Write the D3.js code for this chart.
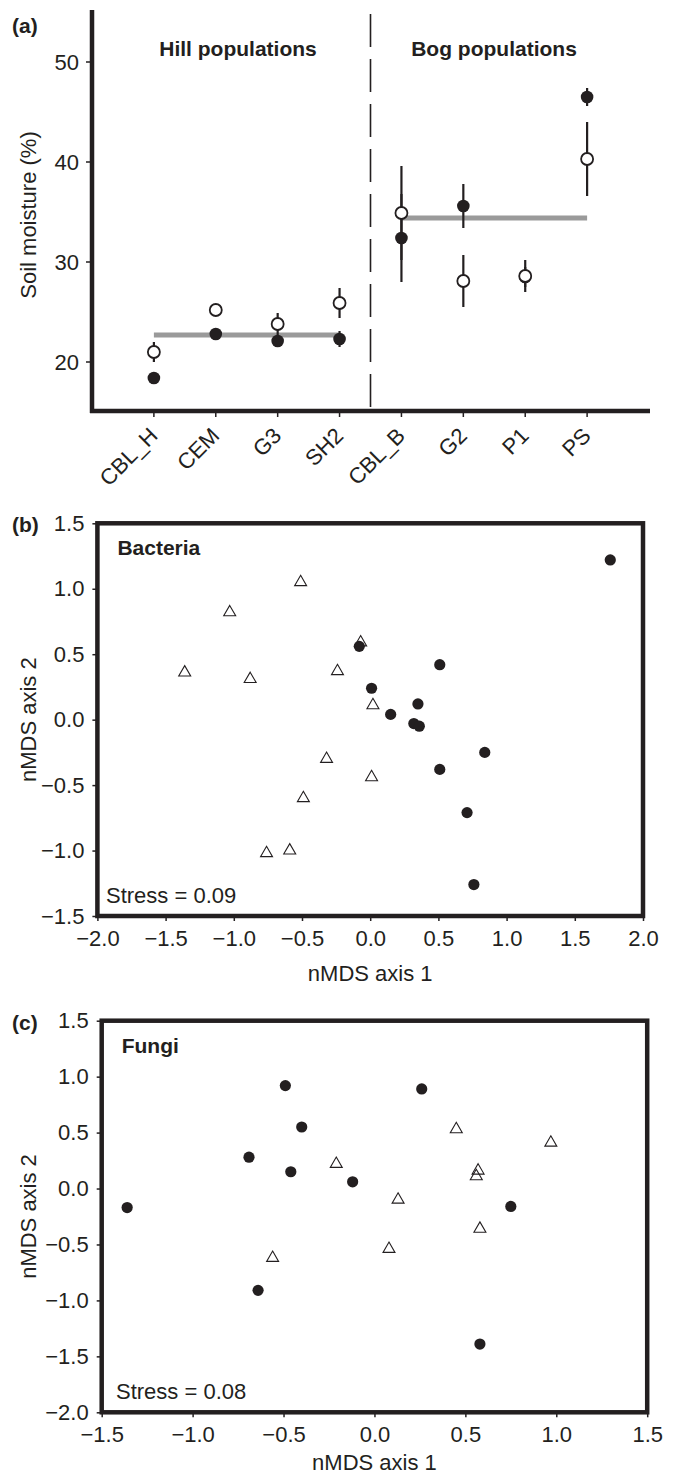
<!DOCTYPE html>
<html>
<head>
<meta charset="utf-8">
<script src="https://cdn.jsdelivr.net/npm/d3@7"></script>
<style>
  body { margin: 0; background: #fff; }
  svg { display: block; font-family: "Liberation Sans", Arial, sans-serif; }
  text { fill: #231f20; }
</style>
</head>
<body>
<div id="chart"></div>
<script>
// panel (a) data: soil moisture per population
const sites = ["CBL_H", "CEM", "G3", "SH2", "CBL_B", "G2", "P1", "PS"];
const filledMean = [18.4, 22.8, 22.1, 22.3, 32.4, 35.6, 28.5, 46.5];
const filledErr  = [0.3, 0.4, 0.5, 0.8, 4.4, 2.2, 1.0, 0.9];
const openMean   = [21.0, 25.2, 23.8, 25.9, 34.9, 28.1, 28.6, 40.3];
const openErr    = [1.0, 0.4, 1.1, 1.5, 4.7, 2.6, 1.6, 3.7];
const groupNames = ["Hill populations", "Bog populations"];
const groupSites = [["CBL_H", "SH2"], ["CBL_B", "PS"]];
const groupMean  = [22.7, 34.4];
const ticksA = [20, 30, 40, 50];

// panel (b) bacteria nMDS
const bactFilled = [[1.76, 1.22], [-0.08, 0.56], [0.51, 0.42], [0.01, 0.24], [0.35, 0.12], [0.15, 0.04],
  [0.32, -0.03], [0.36, -0.05], [0.84, -0.25], [0.51, -0.38], [0.71, -0.71], [0.76, -1.26]];
const bactOpen = [[-0.51, 1.05], [-1.03, 0.82], [-0.07, 0.59], [-1.36, 0.36], [-0.88, 0.31], [-0.24, 0.37],
  [0.02, 0.11], [-0.32, -0.30], [0.01, -0.44], [-0.49, -0.60], [-0.76, -1.02], [-0.59, -1.00]];

// panel (c) fungi nMDS
const fungFilled = [[-0.49, 0.92], [0.26, 0.89], [-0.40, 0.55], [-0.69, 0.28], [-0.46, 0.15], [-0.12, 0.06],
  [-1.36, -0.17], [0.75, -0.16], [-0.64, -0.91], [0.58, -1.39]];
const fungOpen = [[0.45, 0.53], [0.97, 0.41], [-0.21, 0.22], [0.57, 0.16], [0.56, 0.11], [0.13, -0.10],
  [0.58, -0.36], [0.08, -0.54], [-0.56, -0.62]];

const W = 676, H = 1476;
const ink = "#231f20";
const svg = d3.select("#chart").append("svg").attr("width", W).attr("height", H);

// ---------- panel (a) ----------
const xA = d3.scalePoint().domain(sites).range([92, 649]).padding(1);
const yA = d3.scaleLinear().domain([15, 55]).range([412, 12]);
const gA = svg.append("g");

// y ticks + labels
gA.selectAll(".ytA").data(ticksA).enter().append("line")
  .attr("x1", 86).attr("x2", 92)
  .attr("y1", d => yA(d)).attr("y2", d => yA(d))
  .attr("stroke", ink).attr("stroke-width", 1.5);
gA.selectAll(".ylA").data(ticksA).enter().append("text")
  .attr("x", 79).attr("y", d => yA(d)).attr("dy", "0.35em")
  .attr("text-anchor", "end").attr("font-size", 22).text(d => d);

// x ticks + rotated labels
gA.selectAll(".xtA").data(sites).enter().append("line")
  .attr("x1", d => xA(d)).attr("x2", d => xA(d))
  .attr("y1", 411).attr("y2", 417)
  .attr("stroke", ink).attr("stroke-width", 1.5);
gA.selectAll(".xlA").data(sites).enter().append("text")
  .attr("transform", d => `translate(${xA(d) + 5},437) rotate(-45)`)
  .attr("text-anchor", "end").attr("font-size", 22).text(d => d);

// divider
const divX = (xA("SH2") + xA("CBL_B")) / 2;
gA.append("line").attr("x1", divX).attr("x2", divX).attr("y1", 14).attr("y2", 411)
  .attr("stroke", ink).attr("stroke-width", 1.6).attr("stroke-dasharray", "33,12");

// group mean lines
gA.selectAll(".gm").data(groupMean).enter().append("line")
  .attr("x1", (d, i) => xA(groupSites[i][0])).attr("x2", (d, i) => xA(groupSites[i][1]))
  .attr("y1", d => yA(d)).attr("y2", d => yA(d))
  .attr("stroke", "#9a9a9a").attr("stroke-width", 5);

// error bars
function errBars(mean, err) {
  gA.selectAll(null).data(sites).enter().append("line")
    .attr("x1", d => xA(d)).attr("x2", d => xA(d))
    .attr("y1", (d, i) => yA(mean[i] - err[i])).attr("y2", (d, i) => yA(mean[i] + err[i]))
    .attr("stroke", ink).attr("stroke-width", 2.2);
}
errBars(filledMean, filledErr);
errBars(openMean, openErr);

gA.selectAll(".fA").data(sites).enter().append("circle")
  .attr("cx", d => xA(d)).attr("cy", (d, i) => yA(filledMean[i])).attr("r", 6.3)
  .attr("fill", ink);
gA.selectAll(".oA").data(sites).enter().append("circle")
  .attr("cx", d => xA(d)).attr("cy", (d, i) => yA(openMean[i])).attr("r", 6)
  .attr("fill", "#fff").attr("stroke", ink).attr("stroke-width", 1.8);

// axes lines
gA.append("line").attr("x1", 92).attr("x2", 92).attr("y1", 10).attr("y2", 413)
  .attr("stroke", ink).attr("stroke-width", 4.5);
gA.append("line").attr("x1", 90).attr("x2", 650).attr("y1", 411).attr("y2", 411)
  .attr("stroke", ink).attr("stroke-width", 4.5);

gA.selectAll(".gn").data(groupNames).enter().append("text")
  .attr("x", (d, i) => i === 0 ? 238 : 494).attr("y", 56)
  .attr("text-anchor", "middle").attr("font-size", 21).attr("font-weight", "bold").text(d => d);

gA.append("text").attr("x", 12).attr("y", 33).attr("font-size", 21).attr("font-weight", "bold").text("(a)");
gA.append("text").attr("transform", "translate(36,215) rotate(-90)")
  .attr("text-anchor", "middle").attr("font-size", 22).text("Soil moisture (%)");

// ---------- nMDS panels ----------
function nmds(cfg) {
  const g = svg.append("g");
  const x = d3.scaleLinear().domain(cfg.xDom).range(cfg.xRange);
  const y = d3.scaleLinear().domain(cfg.yDom).range(cfg.yRange);

  const xAxis = d3.axisBottom(x).tickValues(d3.range(cfg.xDom[0], cfg.xDom[1] + 0.01, 0.5))
    .tickSize(5).tickPadding(9).tickFormat(d3.format(".1f"));
  const yAxis = d3.axisLeft(y).tickValues(d3.range(cfg.yDom[0], cfg.yDom[1] + 0.01, 0.5))
    .tickSize(5).tickPadding(8).tickFormat(d3.format(".1f"));

  const gx = g.append("g").attr("transform", `translate(0,${cfg.yRange[0]})`).call(xAxis);
  const gy = g.append("g").attr("transform", `translate(${cfg.xRange[0]},0)`).call(yAxis);
  [gx, gy].forEach(a => {
    a.select(".domain").remove();
    a.selectAll("line").attr("stroke", ink).attr("stroke-width", 1.5);
    a.selectAll("text").attr("font-size", 22).attr("font-family", "Liberation Sans, Arial, sans-serif").attr("fill", ink);
  });

  g.append("rect")
    .attr("x", cfg.xRange[0]).attr("y", cfg.yRange[1])
    .attr("width", cfg.xRange[1] - cfg.xRange[0]).attr("height", cfg.yRange[0] - cfg.yRange[1])
    .attr("fill", "none").attr("stroke", ink).attr("stroke-width", 4.5);

  g.selectAll(".tri").data(cfg.open).enter().append("path")
    .attr("d", d3.symbol(d3.symbolTriangle, 62))
    .attr("transform", d => `translate(${x(d[0])},${y(d[1])})`)
    .attr("fill", "none").attr("stroke", ink).attr("stroke-width", 1.1);
  g.selectAll(".dot").data(cfg.filled).enter().append("circle")
    .attr("cx", d => x(d[0])).attr("cy", d => y(d[1])).attr("r", 5.6).attr("fill", ink);

  g.append("text").attr("x", cfg.xRange[0] + 20).attr("y", cfg.yRange[1] + 32)
    .attr("font-size", 21).attr("font-weight", "bold").text(cfg.title);
  g.append("text").attr("x", cfg.stressX).attr("y", cfg.yRange[0] - 13)
    .attr("font-size", 22).text(cfg.stress);
  g.append("text").attr("x", 12).attr("y", cfg.yRange[1] + 9)
    .attr("font-size", 21).attr("font-weight", "bold").text(cfg.tag);
  g.append("text").attr("x", (cfg.xRange[0] + cfg.xRange[1]) / 2).attr("y", cfg.labelY)
    .attr("text-anchor", "middle").attr("font-size", 22).text("nMDS axis 1");
  g.append("text")
    .attr("transform", `translate(36,${(cfg.yRange[0] + cfg.yRange[1]) / 2}) rotate(-90)`)
    .attr("text-anchor", "middle").attr("font-size", 22).text("nMDS axis 2");
}

nmds({
  xDom: [-2, 2], xRange: [97.4, 643], yDom: [-1.5, 1.5], yRange: [916, 523.3], labelY: 981,
  filled: bactFilled, open: bactOpen, title: "Bacteria", stress: "Stress = 0.09", stressX: 106, tag: "(b)"
});
nmds({
  xDom: [-1.5, 1.5], xRange: [101.7, 647.2], yDom: [-2, 1.5], yRange: [1412.3, 1020.7], labelY: 1470,
  filled: fungFilled, open: fungOpen, title: "Fungi", stress: "Stress = 0.08", stressX: 116, tag: "(c)"
});
</script>
</body>
</html>
